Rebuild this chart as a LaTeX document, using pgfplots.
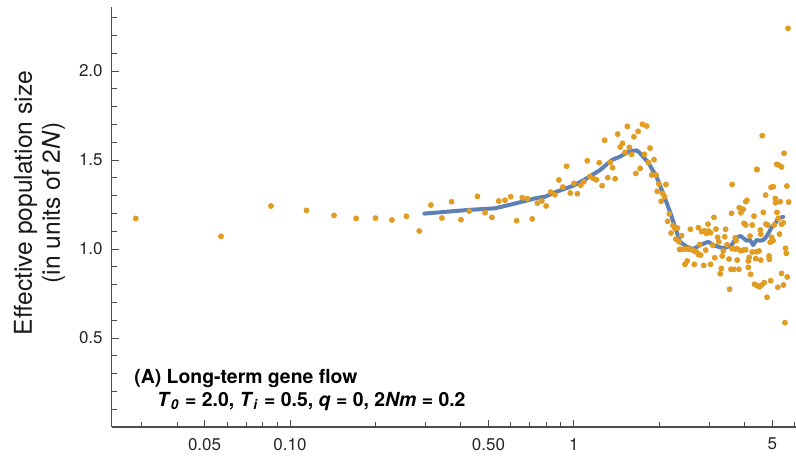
\documentclass[border=0pt]{standalone}
\usepackage{fontspec}
\setmainfont{TeX Gyre Heros}
\usepackage{pgfplots}
\pgfplotsset{compat=1.18}
\definecolor{mblue}{rgb}{0.368417,0.506779,0.709798}
\definecolor{morange}{rgb}{0.880722,0.611041,0.142051}
\definecolor{axgray}{gray}{0.3}
% x values are log10(T)
\pgfplotstableread{
u y
-1.543 1.172
-1.243 1.071
-1.067 1.242
-0.942 1.217
-0.845 1.189
-0.767 1.172
-0.699 1.174
-0.641 1.163
-0.590 1.184
-0.545 1.101
-0.504 1.247
-0.465 1.174
-0.431 1.266
-0.398 1.165
-0.369 1.213
-0.340 1.296
-0.313 1.204
-0.289 1.178
-0.265 1.270
-0.243 1.274
-0.223 1.294
-0.202 1.159
-0.182 1.288
-0.164 1.283
-0.147 1.169
-0.129 1.258
-0.113 1.270
-0.098 1.242
-0.082 1.320
-0.067 1.305
-0.053 1.388
-0.039 1.348
-0.026 1.465
-0.013 1.315
0.000 1.369
0.012 1.311
0.024 1.358
0.035 1.378
0.047 1.496
0.056 1.408
0.068 1.397
0.079 1.389
0.089 1.485
0.099 1.356
0.108 1.611
0.119 1.401
0.128 1.487
0.136 1.457
0.145 1.395
0.154 1.646
0.163 1.573
0.171 1.594
0.180 1.543
0.188 1.689
0.195 1.571
0.203 1.532
0.211 1.631
0.218 1.425
0.226 1.661
0.233 1.453
0.241 1.701
0.248 1.532
0.256 1.691
0.262 1.487
0.268 1.567
0.274 1.416
0.282 1.502
0.289 1.416
0.293 1.324
0.299 1.365
0.307 1.268
0.312 1.313
0.319 1.294
0.324 1.363
0.330 1.156
0.336 1.198
0.342 1.090
0.349 1.133
0.356 1.116
0.359 1.056
0.364 1.118
0.370 1.041
0.372 0.998
0.379 1.075
0.376 0.998
0.387 1.000
0.397 1.000
0.406 1.000
0.415 0.996
0.424 0.989
0.432 0.983
0.438 0.970
0.446 0.966
0.391 0.914
0.399 0.933
0.424 0.914
0.410 1.111
0.438 1.120
0.450 1.097
0.459 1.103
0.467 1.088
0.474 1.101
0.481 1.092
0.472 1.140
0.493 1.178
0.500 1.112
0.457 0.908
0.481 0.914
0.464 0.994
0.443 1.026
0.489 1.021
0.496 0.951
0.506 1.066
0.510 1.041
0.519 0.891
0.515 0.861
0.522 0.961
0.526 0.989
0.531 1.069
0.534 1.111
0.539 1.024
0.546 0.944
0.553 0.886
0.563 0.886
0.548 0.774
0.557 1.002
0.568 1.000
0.575 1.002
0.571 1.047
0.568 1.063
0.575 0.938
0.581 0.886
0.587 0.990
0.596 0.994
0.605 0.996
0.582 1.232
0.589 1.226
0.596 1.223
0.588 1.204
0.605 1.266
0.609 1.274
0.599 1.144
0.605 1.135
0.614 0.933
0.617 0.953
0.622 0.858
0.620 1.073
0.628 1.135
0.634 1.185
0.640 0.946
0.643 0.985
0.645 1.446
0.636 0.802
0.645 0.794
0.654 0.788
0.661 0.798
0.670 0.811
0.680 0.729
0.693 0.822
0.656 1.107
0.658 1.083
0.658 0.938
0.667 1.206
0.675 1.303
0.676 1.140
0.682 1.135
0.687 0.961
0.688 0.942
0.691 1.038
0.694 1.347
0.702 1.350
0.696 1.066
0.701 1.047
0.705 1.135
0.709 1.284
0.710 1.260
0.714 1.476
0.721 1.472
0.731 1.461
0.715 1.206
0.726 1.266
0.719 1.172
0.724 1.084
0.731 1.140
0.737 1.148
0.731 0.863
0.738 0.798
0.718 0.785
0.740 1.538
0.745 1.004
0.748 0.976
0.750 1.354
0.756 1.264
0.751 0.843
0.743 0.586
0.754 2.240
0.663 1.637
0.557 1.363
0.644 1.448
0.555 1.201
0.628 0.983
0.652 0.989
0.614 0.897
}\pts
\pgfplotstableread{
u y
-0.527 1.199
-0.378 1.219
-0.278 1.229
-0.214 1.253
-0.131 1.287
-0.102 1.294
-0.061 1.322
-0.002 1.356
0.045 1.397
0.092 1.444
0.133 1.500
0.162 1.519
0.197 1.551
0.221 1.554
0.232 1.540
0.262 1.485
0.291 1.406
0.314 1.313
0.338 1.210
0.356 1.125
0.373 1.041
0.397 1.013
0.420 1.000
0.444 1.022
0.473 1.041
0.490 1.022
0.514 1.010
0.528 1.004
0.555 1.022
0.573 1.066
0.587 1.073
0.608 1.047
0.620 1.051
0.631 1.022
0.643 1.051
0.655 1.047
0.667 1.051
0.676 1.066
0.688 1.097
0.696 1.122
0.708 1.140
0.719 1.172
0.737 1.181
}\fit
\begin{document}
\begin{tikzpicture}
\begin{axis}[
  scale only axis, width=342.15pt, height=210pt,
  xmin=-1.628, xmax=0.782, ymin=0, ymax=2.36,
  axis lines*=left,
  axis line style={axgray, line width=0.6pt},
  tick align=inside,
  major tick length=3.6pt, minor tick length=2.4pt,
  tick style={axgray, line width=0.5pt},
  xtick={-1.30103,-1,-0.30103,0,0.69897},
  xticklabels={0.05,0.10,0.50,1,5},
  minor xtick={-1.5229,-1.3979,-1.2218,-1.1549,-1.0969,-1.0458,-0.6990,-0.5229,-0.3979,-0.2218,-0.1549,-0.0969,-0.0458,0.3010,0.4771,0.6021,0.7782},
  ytick={0.5,1,1.5,2},
  yticklabels={0.5,1.0,1.5,2.0},
  minor ytick={0.1,0.2,0.3,0.4,0.6,0.7,0.8,0.9,1.1,1.2,1.3,1.4,1.6,1.7,1.8,1.9,2.1,2.2,2.3},
  ticklabel style={font=\fontsize{8.5}{10}\selectfont, text=black!85},
  xticklabel style={yshift=-2pt},
  yticklabel style={xshift=-1pt},
  clip=false,
]
\addplot[morange, only marks, mark=*, mark size=1.25pt] table[x=u, y=y] {\pts};
\addplot[mblue, line width=2pt, line join=round, line cap=round] table[x=u, y=y] {\fit};
\coordinate (O) at (rel axis cs:0,0);
\end{axis}
\path (O) ++(-36.1pt,112pt) node[rotate=90, align=center, text=black!90, font=\fontsize{12.3}{14}\selectfont] {Effective population size\\(in units of 2\textit{N})};
\path (O) ++(11.15pt,21.5pt) node[anchor=base west, inner sep=0pt, font=\bfseries\fontsize{9.7}{11}\selectfont] {(A) Long-term gene flow};
\path (O) ++(22.5pt,10.25pt) node[anchor=base west, inner sep=0pt, font=\bfseries\fontsize{9.7}{11}\selectfont] {\textit{T}\textsubscript{\textit{0}} = 2.0, \textit{T}\textsubscript{\textit{i}} = 0.5, \textit{q} = 0, 2\textit{Nm} = 0.2};
\pgfresetboundingbox
\path (O) ++(-55.85pt,-16.5pt) rectangle ++(398pt,230pt);
\end{tikzpicture}
\end{document}
